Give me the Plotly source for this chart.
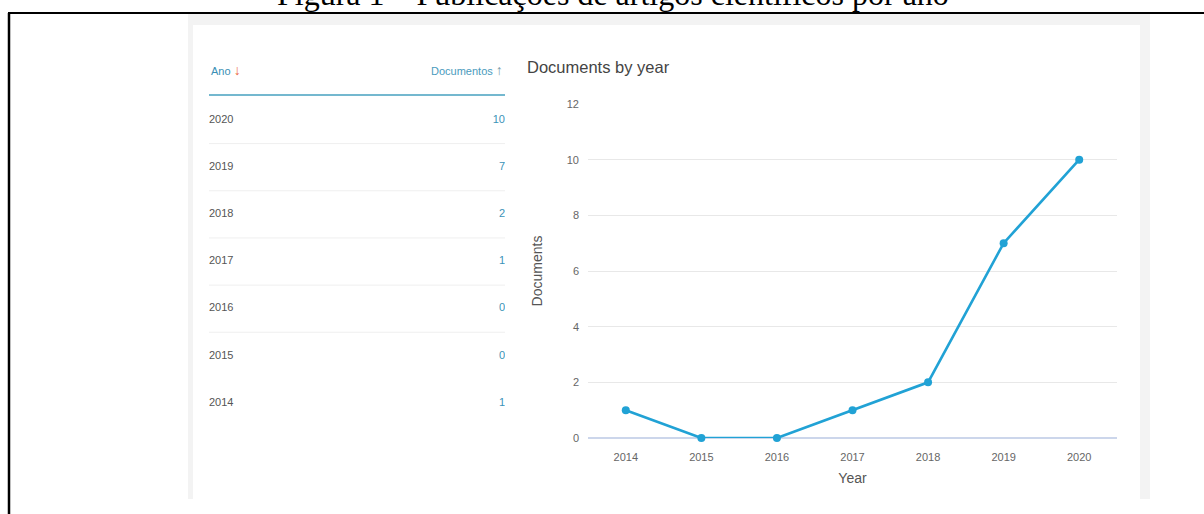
import plotly.graph_objects as go

# ---- data ----
years = ["2014", "2015", "2016", "2017", "2018", "2019", "2020"]
documents = [1, 0, 0, 1, 2, 7, 10]
table_years = list(reversed(years))
table_docs = list(reversed(documents))
y_ticks = [0, 2, 4, 6, 8, 10, 12]

W, H = 1204, 514
def px(x):
    return x / W
def py(y):
    return 1 - y / H

FONT = "Liberation Sans, Arial, sans-serif"
LINE_COLOR = "#21a2d5"

fig = go.Figure()

# line chart
fig.add_trace(go.Scatter(
    x=years, y=documents, mode="lines+markers",
    line=dict(color=LINE_COLOR, width=2.6),
    marker=dict(color=LINE_COLOR, size=8),
    cliponaxis=False, hoverinfo="skip", showlegend=False,
    xaxis="x", yaxis="y",
))

# table (rows on a hidden axis pair)
rows = list(range(len(table_years)))
fig.add_trace(go.Scatter(
    x=[0] * len(rows), y=rows, mode="text", text=table_years,
    textposition="middle right",
    textfont=dict(family=FONT, size=11, color="#555555"),
    hoverinfo="skip", showlegend=False, xaxis="x2", yaxis="y2",
))
fig.add_trace(go.Scatter(
    x=[1] * len(rows), y=rows, mode="text", text=[str(v) for v in table_docs],
    textposition="middle left",
    textfont=dict(family=FONT, size=11, color="#3b93b8"),
    hoverinfo="skip", showlegend=False, xaxis="x2", yaxis="y2",
))

ROW0, STEP = 120, 47.17
def rowpx(v):
    return ROW0 + STEP * v
y2_lo, y2_hi = 7.0, -1.5

shapes = [
    # gray panel and white card
    dict(type="rect", xref="paper", yref="paper", x0=px(188), x1=px(1150),
         y0=py(499), y1=py(13), fillcolor="#f3f3f3", line=dict(width=0), layer="below"),
    dict(type="rect", xref="paper", yref="paper", x0=px(193), x1=px(1140),
         y0=py(499), y1=py(25), fillcolor="#ffffff", line=dict(width=0), layer="below"),
    # document frame
    dict(type="line", xref="paper", yref="paper", x0=px(8), x1=1.0,
         y0=py(13), y1=py(13), line=dict(color="#000000", width=2)),
    dict(type="line", xref="paper", yref="paper", x0=px(9), x1=px(9),
         y0=py(13), y1=0, line=dict(color="#000000", width=2.5)),
    # table header underline
    dict(type="line", xref="x2", yref="y2", x0=0, x1=1.02,
         y0=-0.53, y1=-0.53, line=dict(color="#74b8cf", width=2)),
]
for i in range(5):
    shapes.append(dict(type="line", xref="x2", yref="y2", x0=0, x1=1.02,
                       y0=i + 0.5, y1=i + 0.5, line=dict(color="#efefef", width=1)))

annotations = [
    dict(text="Figura 1 – Publicações de artigos científicos por ano",
         xref="paper", yref="paper", x=px(613), y=py(14), xanchor="center", yanchor="bottom",
         showarrow=False, font=dict(family="Liberation Serif, Times New Roman, serif", size=32, color="#000000")),
    dict(text="Documents by year", xref="paper", yref="paper", x=px(525), y=py(67),
         xanchor="left", yanchor="middle", showarrow=False,
         font=dict(family=FONT, size=16.5, color="#444444")),
    dict(text='Ano <span style="color:#ec6a3f;font-size:14px">↓</span>', xref="x2", yref="y2",
         x=0, y=-1.06, xanchor="left", yanchor="middle", showarrow=False,
         font=dict(family=FONT, size=11, color="#3a8fb5")),
    dict(text='Documentos <span style="color:#7c9aa8;font-size:14px">↑</span>', xref="x2", yref="y2",
         x=1.0, y=-1.06, xanchor="right", yanchor="middle", showarrow=False,
         font=dict(family=FONT, size=11, color="#4a9bbd")),
]

fig.update_layout(
    width=W, height=H,
    margin=dict(l=0, r=0, t=0, b=0),
    paper_bgcolor="#ffffff", plot_bgcolor="rgba(0,0,0,0)",
    hovermode=False, showlegend=False,
    font=dict(family=FONT),
    xaxis=dict(
        type="category", categoryorder="array", categoryarray=years,
        range=[-0.5, 6.5], domain=[px(588), px(1117)],
        showgrid=False, zeroline=False, showline=False, ticks="",
        tickfont=dict(family=FONT, size=11, color="#666666"),
        ticklabelstandoff=11,
        title=dict(text="Year", font=dict(family=FONT, size=14, color="#555555"), standoff=11),
        automargin=False, fixedrange=True,
    ),
    yaxis=dict(
        range=[0, 12], domain=[py(438), py(104)],
        tickvals=y_ticks, showgrid=True, gridcolor="#e8e8e8", gridwidth=1,
        zeroline=True, zerolinecolor="#ccd6eb", zerolinewidth=2,
        showline=False, ticks="",
        tickfont=dict(family=FONT, size=11, color="#666666"),
        ticklabelstandoff=8,
        title=dict(text="Documents", font=dict(family=FONT, size=14, color="#555555"), standoff=20),
        automargin=False, fixedrange=True,
    ),
    xaxis2=dict(range=[0, 1], domain=[px(209), px(505)], visible=False,
                anchor="y2", fixedrange=True),
    yaxis2=dict(range=[y2_lo, y2_hi], domain=[py(rowpx(y2_lo)), py(rowpx(y2_hi))],
                visible=False, anchor="x2", fixedrange=True),
    shapes=shapes,
    annotations=annotations,
)

fig.write_html("out.html")
